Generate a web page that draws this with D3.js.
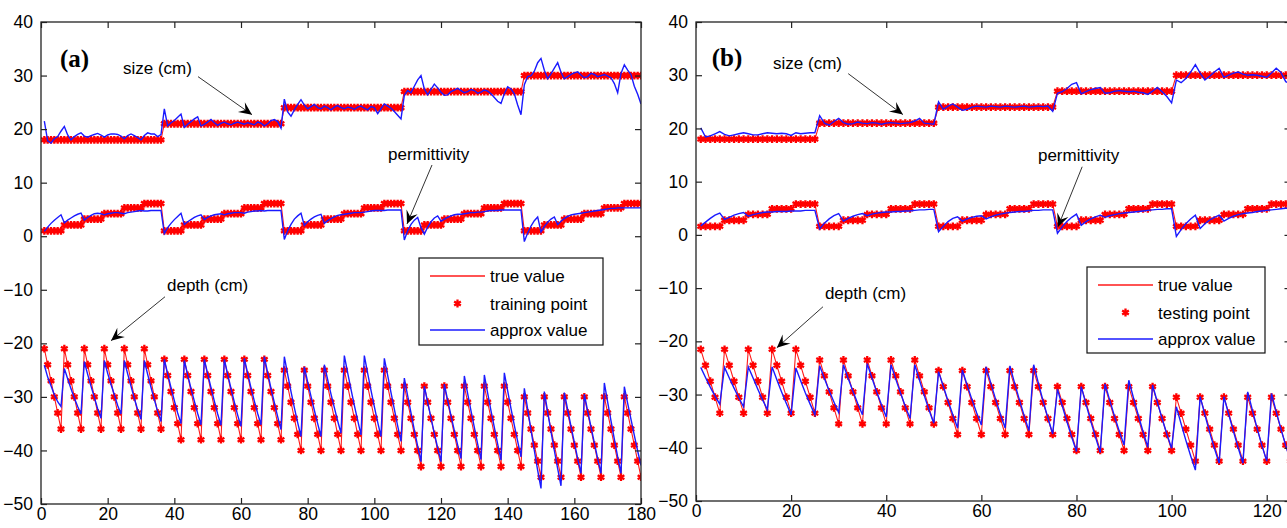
<!DOCTYPE html>
<html>
<head>
<meta charset="utf-8">
<script src="https://cdn.jsdelivr.net/npm/d3@7"></script>
<style>
  body { margin: 0; background: #fff; }
  svg { display: block; font-family: "Liberation Sans", Arial, sans-serif; }
</style>
</head>
<body>
<svg id="chart" width="1287" height="528"></svg>
<script>
// ---- data ----
// (a) training set: 5 sizes x 6 permittivities x 6 depths = 180 samples
const sizeLevelsA = [18, 21, 24, 27, 30];
const permLevelsA = [1, 2.1, 3.2, 4.2, 5.3, 6.1];
const depthLevelsA = [
  [-21, -24, -27, -30, -33, -36],
  [-23, -26, -29, -32, -35, -38],
  [-25, -28, -31, -34, -37, -40],
  [-28, -31, -34, -37, -40, -43],
  [-30, -33, -36, -39, -42, -45]
];
// (b) testing set: 5 sizes x 5 permittivities x 5 depths = 125 samples
const sizeLevelsB = [18, 21, 24, 27, 30];
const permLevelsB = [1.6, 2.75, 3.85, 4.9, 5.8];
const depthLevelsB = [
  [-21.5, -24.5, -27.5, -30.5, -33.5],
  [-23.5, -26.5, -29.5, -32.5, -35.5],
  [-25.5, -28.5, -31.5, -34.5, -37.5],
  [-28.5, -31.5, -34.5, -37.5, -40.5],
  [-30.5, -33.5, -36.5, -39.5, -42.5]
];

// approximated (network output) values, one per sample
const approxSizeA = [
  21.5,17.8,17.4,18.2,18.6,19.6,20.5,18.9,18.0,18.6,19.0,19.3,18.7,18.5,18.8,19.0,19.2,18.9,18.5,18.9,19.1,19.1,19.0,18.7,18.2,18.8,19.1,18.8,18.4,18.0,18.8,19.3,19.1,19.1,18.6,19.0,
  23.8,20.6,21.2,21.6,22.2,22.8,20.3,20.9,21.4,21.9,22.3,20.6,20.9,21.3,21.8,21.2,20.7,21.1,21.3,21.0,20.8,21.1,21.3,21.1,20.9,21.2,21.0,20.8,21.3,21.1,20.6,21.0,21.6,21.8,21.4,20.2,
  25.6,23.2,22.4,23.6,24.6,25.5,24.5,23.8,24.2,24.6,24.0,23.8,24.3,24.0,23.6,24.1,24.4,24.0,23.8,24.1,24.0,23.7,24.1,24.3,23.9,23.6,24.2,24.0,22.9,23.8,24.7,24.3,23.9,23.3,22.6,21.9,
  26.3,27.2,26.8,28.0,29.2,30.0,27.5,26.4,27.4,28.4,27.7,26.9,26.3,26.4,27.0,27.3,27.6,27.2,26.8,27.0,27.4,27.2,26.7,26.9,27.3,27.1,26.6,25.9,25.2,24.8,26.6,27.9,27.5,26.6,24.5,22.7,
  28.3,29.8,30.0,30.8,32.4,33.2,31.0,29.4,30.3,31.4,32.4,30.6,29.4,29.8,30.2,30.5,30.7,30.1,29.6,29.8,30.4,30.2,29.8,30.0,30.2,29.9,29.6,28.5,26.8,30.4,32.0,31.0,30.2,28.0,26.5,24.7
];
const approxPermA = [
  0.9,1.7,2.4,3.0,3.5,4.0,2.5,3.0,3.4,3.8,4.1,4.3,3.0,3.5,3.9,4.2,4.3,4.2,4.0,4.2,4.3,4.4,4.4,4.3,4.2,4.4,4.5,4.6,4.7,4.8,4.7,4.7,4.8,4.8,4.8,4.8,
  0.5,1.6,2.4,3.1,3.7,4.3,2.2,2.7,3.1,3.5,3.8,4.0,3.1,3.5,3.8,4.0,4.1,4.2,4.0,4.2,4.3,4.4,4.4,4.4,4.3,4.5,4.6,4.7,4.7,4.8,4.7,4.8,4.8,4.8,4.8,4.8,
  -0.6,1.0,2.2,3.2,3.8,4.3,2.0,2.7,3.2,3.6,3.9,4.1,2.4,2.9,3.3,3.6,3.9,4.0,4.1,4.2,4.3,4.4,4.4,4.4,4.5,4.6,4.7,4.8,4.8,4.8,4.8,4.9,4.9,4.9,4.9,4.9,
  -0.7,1.0,2.2,3.0,3.5,1.6,0.4,1.7,2.7,3.4,3.8,2.8,3.2,3.5,3.8,4.0,4.1,4.1,4.2,4.3,4.4,4.4,4.5,4.5,4.6,4.7,4.8,4.8,4.8,4.9,4.9,4.9,4.9,4.9,4.9,4.9,
  -1.0,0.6,1.9,2.9,3.6,0.8,1.8,2.6,3.2,3.6,2.2,2.8,3.3,3.7,4.0,4.1,4.2,4.3,4.4,4.5,4.6,4.7,4.8,4.9,5.0,5.1,5.2,5.2,5.3,5.3,5.3,5.3,5.3,5.3,5.3,5.3
];
const approxDepthA = [
  -24.1,-26.3,-27.9,-29.6,-30.9,-31.8,  -24.7,-26.6,-28.5,-30.2,-31.8,-33.2,
  -23.4,-25.8,-28.0,-30.1,-32.2,-34.0,  -23.2,-25.6,-27.7,-29.6,-31.6,-33.2,
  -23.2,-25.7,-28.0,-30.3,-32.4,-34.2,  -23.2,-25.8,-28.2,-30.5,-32.7,-34.6,
  -23.0,-25.7,-28.3,-30.7,-33.0,-35.0,  -23.2,-25.9,-28.4,-30.8,-33.1,-35.2,
  -23.0,-25.7,-28.3,-30.8,-33.2,-35.3,  -23.0,-25.8,-28.4,-31.0,-33.4,-35.5,
  -22.8,-25.6,-28.3,-30.8,-33.1,-35.2,  -22.5,-25.5,-28.4,-31.1,-33.7,-36.1,
  -22.5,-25.8,-29.0,-32.0,-34.8,-37.4,  -24.4,-27.2,-29.9,-32.5,-35.0,-37.4,
  -24.0,-26.8,-29.5,-32.0,-34.5,-36.8,  -22.3,-25.5,-28.6,-31.6,-34.4,-37.1,
  -22.3,-25.6,-28.8,-31.8,-34.7,-37.4,  -22.8,-26.0,-29.2,-32.3,-35.4,-38.3,
  -26.5,-29.8,-33.0,-36.2,-39.2,-42.1,  -28.0,-31.0,-33.9,-36.8,-39.5,-42.1,
  -27.6,-30.6,-33.5,-36.3,-39.0,-41.5,  -26.1,-29.4,-32.6,-35.7,-38.8,-41.7,
  -25.9,-29.3,-32.6,-35.7,-38.8,-41.8,  -25.5,-28.9,-32.2,-35.3,-38.3,-41.2,
  -28.4,-32.3,-36.2,-40.0,-43.7,-47.1,  -29.0,-32.8,-36.5,-40.0,-43.4,-46.6,
  -29.2,-32.4,-35.5,-38.5,-41.5,-44.3,  -29.5,-32.6,-35.6,-38.6,-41.5,-44.3,
  -27.4,-31.0,-34.5,-37.9,-41.2,-44.3,  -28.1,-31.2,-34.2,-37.2,-40.1,-42.8
];

const approxSizeB = [
  20.1,18.4,18.6,19.0,19.4,18.9,18.6,18.8,19.0,19.2,19.0,18.8,18.8,19.0,19.2,19.1,19.0,19.1,19.0,18.7,19.2,19.0,19.1,19.2,19.2,
  22.4,21.0,20.6,21.3,21.9,21.1,20.8,20.9,21.2,21.0,20.9,21.1,21.0,20.8,21.0,21.1,21.0,20.9,21.0,21.1,21.4,21.9,21.0,20.9,20.8,
  25.0,23.6,24.2,24.6,24.0,23.4,23.6,24.0,24.2,24.1,24.0,24.2,24.1,24.0,24.2,24.1,24.0,24.1,24.2,24.0,24.1,24.2,24.1,24.2,23.2,
  26.6,26.9,27.5,28.3,28.6,26.5,26.9,27.3,27.5,27.7,26.6,26.7,27.0,27.1,27.0,26.9,27.0,26.8,26.7,26.4,27.0,27.7,26.9,26.0,24.8,
  29.1,28.6,29.4,30.6,32.0,30.4,29.1,29.8,30.6,31.3,29.6,30.0,30.4,30.6,30.2,30.0,30.1,30.0,29.8,29.6,30.4,31.3,30.5,28.8,28.4
];
const approxPermB = [
  1.7,2.4,3.1,3.7,4.1,2.9,3.3,3.7,4.0,4.2,3.5,3.8,4.0,4.2,4.3,4.3,4.4,4.4,4.4,4.5,4.5,4.5,4.6,4.6,4.6,
  1.1,2.2,3.0,3.6,4.0,2.6,3.1,3.5,3.8,4.0,3.6,3.9,4.1,4.2,4.3,4.3,4.4,4.4,4.5,4.5,4.6,4.7,4.7,4.8,4.8,
  0.6,1.6,2.5,3.1,3.4,2.6,3.0,3.3,3.5,3.6,3.0,3.4,3.7,3.9,4.1,4.2,4.3,4.4,4.4,4.5,4.6,4.6,4.7,4.7,4.7,
  0.3,1.5,2.5,3.3,3.9,1.8,2.5,3.0,3.4,3.7,3.3,3.6,3.8,4.0,4.1,4.2,4.3,4.4,4.5,4.6,4.7,4.8,4.8,4.9,4.9,
  -0.3,1.0,2.1,3.0,3.7,1.2,2.1,2.8,3.3,3.7,2.6,3.1,3.5,3.8,4.0,4.1,4.2,4.4,4.5,4.6,4.7,4.8,4.9,5.0,5.0
];
const approxDepthB = [
  -24.9,-26.8,-28.6,-30.3,-31.8,  -24.9,-26.9,-28.8,-30.6,-32.3,  -24.8,-26.9,-29.0,-31.0,-32.8,
  -24.8,-27.2,-29.5,-31.7,-33.8,  -25.0,-27.4,-29.7,-31.8,-33.8,
  -24.6,-27.0,-29.3,-31.4,-33.4,  -24.4,-27.0,-29.4,-31.7,-33.8,  -24.2,-26.9,-29.5,-31.9,-34.2,
  -24.4,-27.1,-29.7,-32.2,-34.5,  -24.4,-27.3,-30.2,-32.9,-35.4,
  -25.7,-28.5,-31.2,-33.8,-36.3,  -25.4,-28.2,-30.9,-33.4,-35.7,  -24.8,-27.9,-30.9,-33.7,-36.3,
  -24.6,-27.9,-31.0,-34.0,-36.8,  -24.4,-27.9,-31.3,-34.4,-37.4,
  -29.0,-32.1,-35.1,-38.0,-40.7,  -28.5,-31.8,-35.0,-38.0,-40.9,  -28.0,-31.1,-34.1,-36.9,-39.5,
  -27.3,-30.7,-33.9,-37.0,-39.9,  -28.2,-31.4,-34.5,-37.4,-40.1,
  -32.3,-35.5,-38.6,-41.5,-44.2,  -30.4,-33.8,-37.1,-40.1,-42.9,  -30.4,-33.7,-36.9,-40.0,-42.9,
  -29.5,-33.0,-36.4,-39.6,-42.5,  -29.8,-33.2,-36.5,-39.6,-42.4
];

const yTicks = [-50, -40, -30, -20, -10, 0, 10, 20, 30, 40];
const xTicksA = [0, 20, 40, 60, 80, 100, 120, 140, 160, 180];
const xTicksB = [0, 20, 40, 60, 80, 100, 120];
const legendLabels = ["true value", "training point", "approx value"];
const legendLabelsB = ["true value", "testing point", "approx value"];

// sample order of the design grid: size outer, permittivity middle, depth inner
function expandGrid(sizes, perms, depths) {
  const out = { size: [], perm: [], depth: [] };
  sizes.forEach((s, si) => perms.forEach(p => depths[si].forEach(d => {
    out.size.push(s); out.perm.push(p); out.depth.push(d);
  })));
  return out;
}

const svg = d3.select("#chart");

// arrowhead
svg.append("defs").append("marker")
  .attr("id", "head").attr("viewBox", "-14 -7 16 14")
  .attr("refX", 0).attr("refY", 0)
  .attr("markerWidth", 16).attr("markerHeight", 14)
  .attr("markerUnits", "userSpaceOnUse").attr("orient", "auto")
  .append("path").attr("d", "M0,0 L-13,-6 L-8,0 L-13,6 Z").attr("fill", "#000");

function drawPanel(cfg) {
  const truth = expandGrid(cfg.sizes, cfg.perms, cfg.depths);
  const n = truth.size.length;
  const idx = d3.range(1, n + 1);

  const x = d3.scaleLinear().domain([0, cfg.xMax]).range([0, cfg.w]);
  const y = d3.scaleLinear().domain([-50, 40]).range([cfg.h, 0]);

  const g = svg.append("g").attr("transform", `translate(${cfg.left},${cfg.top})`);

  g.append("clipPath").attr("id", cfg.id + "clip")
    .append("rect").attr("width", cfg.w).attr("height", cfg.h);

  const plot = g.append("g").attr("clip-path", `url(#${cfg.id}clip)`);
  const line = d3.line().x((d, i) => x(idx[i])).y(d => y(d));
  const star = d3.symbol(d3.symbolAsterisk, 42);

  const trueSeries = [truth.size, truth.perm, truth.depth];
  const approxSeries = cfg.approx;

  trueSeries.forEach(s => {
    plot.append("path").attr("d", line(s))
      .attr("fill", "none").attr("stroke", "#ff1a1a").attr("stroke-width", 1.1);
  });
  trueSeries.forEach(s => {
    plot.append("g").selectAll("path").data(s).join("path")
      .attr("transform", (d, i) => `translate(${x(idx[i])},${y(d)})`)
      .attr("d", star)
      .attr("fill", "none").attr("stroke", "#ff0000").attr("stroke-width", 2.3);
  });
  approxSeries.forEach(s => {
    plot.append("path").attr("d", line(s))
      .attr("fill", "none").attr("stroke", "#1a1aff").attr("stroke-width", 1.4);
  });

  // axes with inward ticks on all four sides
  const style = sel => {
    sel.select(".domain").remove();
    sel.selectAll(".tick line").attr("stroke", "#222").attr("stroke-width", 1.2);
    sel.attr("font-size", 17.5).attr("font-family", '"Liberation Sans", Arial, sans-serif');
    sel.selectAll(".tick text").attr("fill", "#000");
  };
  g.append("g").attr("transform", `translate(0,${cfg.h})`)
    .call(d3.axisBottom(x).tickValues(cfg.xTicks).tickSize(-6).tickPadding(4)).call(style);
  g.append("g")
    .call(d3.axisTop(x).tickValues(cfg.xTicks).tickSize(-6).tickFormat("")).call(style);
  g.append("g")
    .call(d3.axisLeft(y).tickValues(yTicks).tickSize(-6).tickPadding(8)).call(style);
  g.append("g").attr("transform", `translate(${cfg.w},0)`)
    .call(d3.axisRight(y).tickValues(yTicks).tickSize(-6).tickFormat("")).call(style);

  g.append("rect").attr("width", cfg.w).attr("height", cfg.h)
    .attr("fill", "none").attr("stroke", "#222").attr("stroke-width", 1.3);

  // panel letter
  g.append("text").attr("x", x(cfg.tag[1])).attr("y", y(cfg.tag[2]))
    .attr("font-family", '"Liberation Serif", "Times New Roman", serif')
    .attr("font-weight", "bold").attr("font-size", 25).text(cfg.tag[0]);

  // annotations with arrows
  cfg.notes.forEach(a => {
    g.append("text").attr("x", x(a.tx)).attr("y", y(a.ty))
      .attr("font-size", 17).attr("fill", "#000").text(a.text);
    g.append("line")
      .attr("x1", x(a.x1)).attr("y1", y(a.y1)).attr("x2", x(a.x2)).attr("y2", y(a.y2))
      .attr("stroke", "#333").attr("stroke-width", 1).attr("marker-end", "url(#head)");
  });

  // legend
  const L = cfg.legend;
  const lg = g.append("g").attr("transform", `translate(${L.x},${L.y})`);
  lg.append("rect").attr("width", L.w).attr("height", L.h)
    .attr("fill", "#fff").attr("stroke", "#111").attr("stroke-width", 1.2);
  const rowY = [18, 45.5, 72];
  lg.append("line").attr("x1", 11).attr("x2", 66).attr("y1", rowY[0]).attr("y2", rowY[0])
    .attr("stroke", "#ff1a1a").attr("stroke-width", 1.3);
  lg.append("path").attr("transform", `translate(38.5,${rowY[1]})`).attr("d", star)
    .attr("fill", "none").attr("stroke", "#ff0000").attr("stroke-width", 2.3);
  lg.append("line").attr("x1", 11).attr("x2", 66).attr("y1", rowY[2]).attr("y2", rowY[2])
    .attr("stroke", "#1a1aff").attr("stroke-width", 1.4);
  lg.selectAll("text.lab").data(cfg.labels).join("text").attr("class", "lab")
    .attr("x", 71).attr("y", (d, i) => rowY[i]).attr("dy", "0.36em")
    .attr("font-size", 17).attr("fill", "#000").text(d => d);
}

drawPanel({
  id: "a", left: 41, top: 22, w: 600, h: 482, xMax: 180, xTicks: xTicksA,
  sizes: sizeLevelsA, perms: permLevelsA, depths: depthLevelsA,
  approx: [approxSizeA, approxPermA, approxDepthA],
  tag: ["(a)", 5.7, 31.6],
  notes: [
    { text: "size (cm)", tx: 24.6, ty: 30.3, x1: 47.1, y1: 29.8, x2: 63.3, y2: 22.7 },
    { text: "permittivity", tx: 104.1, ty: 14.3, x1: 117.3, y1: 13.3, x2: 109.8, y2: 2.3 },
    { text: "depth (cm)", tx: 37.8, ty: -10.2, x1: 37.2, y1: -11.3, x2: 21, y2: -19.5 }
  ],
  legend: { x: 378, y: 236, w: 184, h: 87 },
  labels: legendLabels
});

drawPanel({
  id: "b", left: 696, top: 22, w: 594.5, h: 479, xMax: 125, xTicks: xTicksB,
  sizes: sizeLevelsB, perms: permLevelsB, depths: depthLevelsB,
  approx: [approxSizeB, approxPermB, approxDepthB],
  tag: ["(b)", 3.3, 31.8],
  notes: [
    { text: "size (cm)", tx: 16.2, ty: 31.2, x1: 32, y1: 30.3, x2: 43.5, y2: 22.6 },
    { text: "permittivity", tx: 71.9, ty: 13.9, x1: 81.2, y1: 12.8, x2: 76.1, y2: 1.5 },
    { text: "depth (cm)", tx: 27.1, ty: -12, x1: 26.7, y1: -13.5, x2: 17, y2: -21.2 }
  ],
  legend: { x: 391, y: 245, w: 178, h: 86 },
  labels: legendLabelsB
});
</script>
</body>
</html>
